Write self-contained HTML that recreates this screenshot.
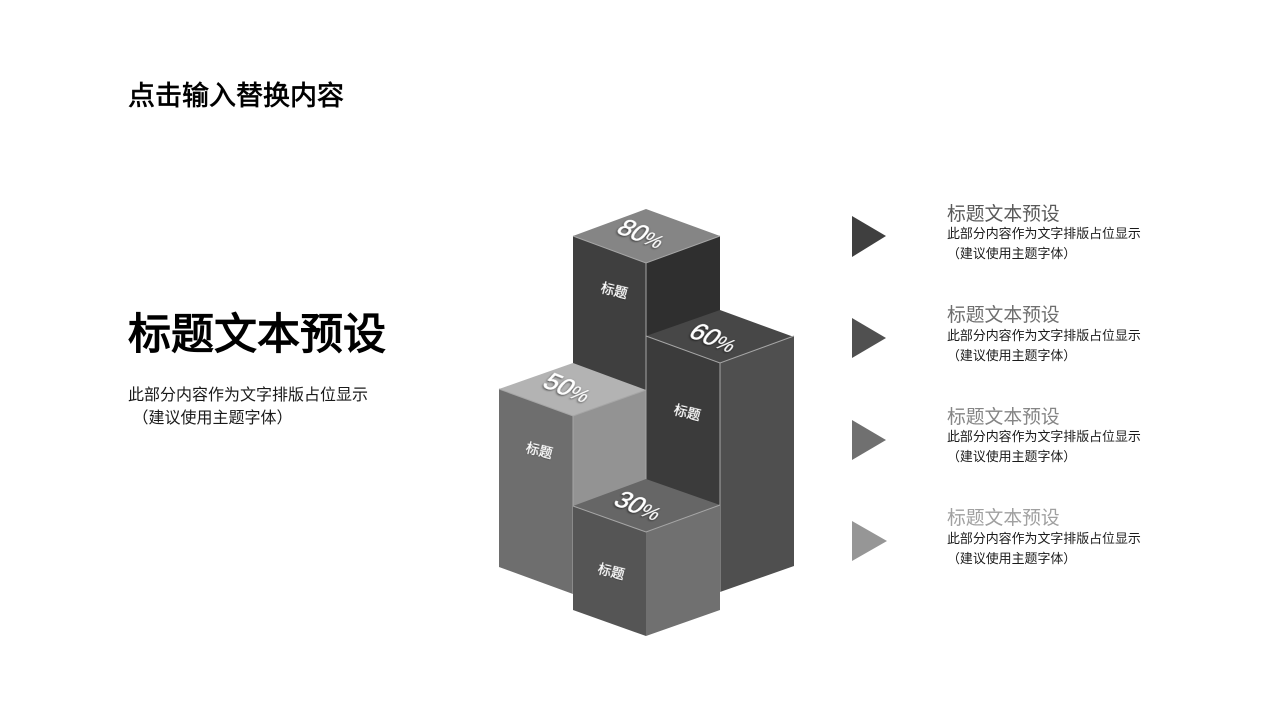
<!DOCTYPE html>
<html lang="zh">
<head>
<meta charset="utf-8">
<style>
html,body{margin:0;padding:0;background:#fff;}
body{width:1280px;height:720px;overflow:hidden;position:relative;}
svg{position:absolute;left:0;top:0;}
text{font-family:"Liberation Sans","Noto Sans CJK SC",sans-serif;}
.e{stroke:#a6a6a6;stroke-width:1;fill:none;}
.pct{fill:#fff;font-size:25px;stroke:#fff;stroke-width:.4px;filter:url(#s);}
.pct tspan{font-size:20px;stroke-width:.1px;}
.lab{fill:#fff;font-size:13.5px;stroke:#fff;stroke-width:.2px;filter:url(#s2);}
.sub{fill:#1a1a1a;font-size:12.93px;}
.ttl{font-size:18.8px;}
.h{stroke:#000;stroke-width:.7px;}
</style>
</head>
<body>
<svg width="1280" height="720" viewBox="0 0 1280 720">
<defs>
<filter id="s" x="-20%" y="-20%" width="140%" height="140%"><feDropShadow dx="0" dy="1" stdDeviation="1" flood-color="#000" flood-opacity=".7"/></filter>
<filter id="s2" x="-20%" y="-20%" width="140%" height="140%"><feDropShadow dx="0" dy="0.5" stdDeviation=".6" flood-color="#000" flood-opacity=".5"/></filter>
</defs>

<text class="h" x="128" y="105" font-size="27">点击输入替换内容</text>
<text class="h" x="128" y="349" font-size="43" style="stroke-width:1.3px">标题文本预设</text>
<text x="128" y="400" font-size="16" fill="#1a1a1a">此部分内容作为文字排版占位显示</text>
<text x="128" y="423" font-size="16" fill="#1a1a1a" xml:space="preserve"> （建议使用主题字体）</text>

<!-- 80% -->
<polygon points="573,236 646,263 646,570 573,545" fill="#3f3f3f"/>
<polygon points="646,263 720,236 720,400 646,400" fill="#2f2f2f"/>
<polygon points="646,209 720,236 646,263 573,236" fill="#858585"/>
<polyline class="e" points="573,236 646,263 720,236"/>

<!-- 60% -->
<polygon points="646,336 720,363 720,600 646,570" fill="#3b3b3b"/>
<polygon points="720,363 794,336 794,566 720,592" fill="#4f4f4f"/>
<polygon points="720,310 794,337 720,363 646,336" fill="#474747"/>
<polyline class="e" points="646,336 720,363 794,336"/>
<line class="e" x1="720" y1="363" x2="720" y2="592"/>
<line class="e" x1="646" y1="263" x2="646" y2="336"/>

<!-- 50% -->
<polygon points="499,389 573,416 573,594 499,567" fill="#6e6e6e"/>
<polygon points="573,416 646,390 646,490 573,516" fill="#939393"/>
<polygon points="573,363 646,390 573,416 499,389" fill="#b3b3b3"/>
<polyline class="e" points="499,389 573,416 646,390"/>
<line class="e" x1="573" y1="416" x2="573" y2="594"/>
<line class="e" x1="646" y1="336" x2="646" y2="480"/>

<!-- 30% -->
<polygon points="573,506 646,532 646,636 573,610" fill="#555555"/>
<polygon points="646,532 720,505 720,610 646,636" fill="#707070"/>
<polygon points="646,479 720,505 646,532 573,506" fill="#666666"/>
<polyline class="e" points="573,506 646,532 720,505"/>

<!-- percentages -->
<text class="pct" transform="translate(615,232) rotate(22) skewX(-18)">80<tspan>%</tspan></text>
<text class="pct" transform="translate(687,336) rotate(22) skewX(-18)">60<tspan>%</tspan></text>
<text class="pct" transform="translate(541,386) rotate(22) skewX(-18)">50<tspan>%</tspan></text>
<text class="pct" transform="translate(612,504) rotate(22) skewX(-18)">30<tspan>%</tspan></text>

<!-- face labels -->
<text class="lab" transform="translate(600,292) rotate(14)">标题</text>
<text class="lab" transform="translate(673,414) rotate(14)">标题</text>
<text class="lab" transform="translate(525,452) rotate(14)">标题</text>
<text class="lab" transform="translate(597,573) rotate(14)">标题</text>

<!-- legend -->
<polygon points="852,216 886,236 852,257" fill="#3f3f3f"/>
<polygon points="852,318 886,338 852,358" fill="#505050"/>
<polygon points="852,420 886,440 852,460" fill="#707070"/>
<polygon points="852,521 887,541 852,561" fill="#969696"/>

<text class="ttl" x="947" y="220" fill="#595959">标题文本预设</text>
<text class="sub" x="947" y="238">此部分内容作为文字排版占位显示</text>
<text class="sub" x="947" y="258" xml:space="preserve">（建议使用主题字体）</text>

<text class="ttl" x="947" y="321" fill="#6e6e6e">标题文本预设</text>
<text class="sub" x="947" y="340">此部分内容作为文字排版占位显示</text>
<text class="sub" x="947" y="360" xml:space="preserve">（建议使用主题字体）</text>

<text class="ttl" x="947" y="423" fill="#858585">标题文本预设</text>
<text class="sub" x="947" y="441">此部分内容作为文字排版占位显示</text>
<text class="sub" x="947" y="461" xml:space="preserve">（建议使用主题字体）</text>

<text class="ttl" x="947" y="524" fill="#a0a0a0">标题文本预设</text>
<text class="sub" x="947" y="543">此部分内容作为文字排版占位显示</text>
<text class="sub" x="947" y="563" xml:space="preserve">（建议使用主题字体）</text>
</svg>
</body>
</html>
